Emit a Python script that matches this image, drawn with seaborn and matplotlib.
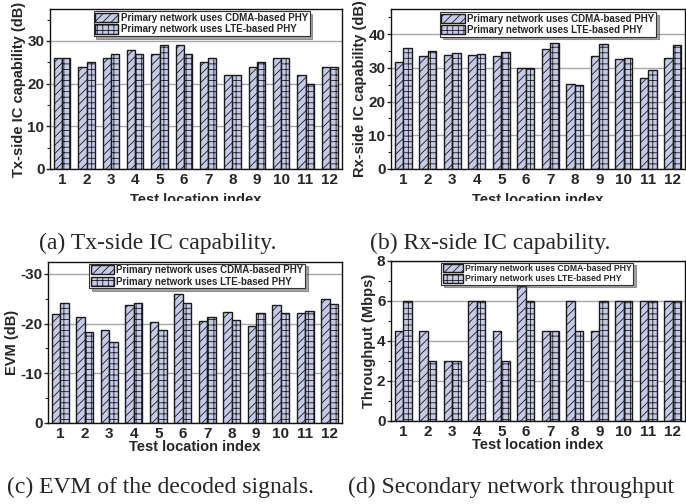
import matplotlib
matplotlib.use("Agg")
import matplotlib.pyplot as plt
from matplotlib.patches import Patch, Rectangle
from matplotlib.ticker import MultipleLocator
import seaborn as sns
import pandas as pd

locations = [str(i) for i in range(1, 13)]
series_names = ["Primary network uses CDMA-based PHY", "Primary network uses LTE-based PHY"]

tx_cdma = [26, 24, 26, 28, 27, 29, 25, 22, 24, 26, 22, 24]
tx_lte = [26, 25, 27, 27, 29, 27, 26, 22, 25, 26, 20, 24]

rx_cdma = [31.9, 33.4, 33.9, 33.8, 33.4, 29.9, 35.6, 25.3, 33.4, 32.7, 27.1, 33.0]
rx_lte = [36.0, 35.1, 34.4, 34.1, 34.7, 30.1, 37.4, 24.8, 37.1, 33.1, 29.4, 36.9]

evm_cdma = [-21.85, -21.4, -18.8, -23.7, -20.4, -25.9, -20.6, -22.3, -19.6, -23.7, -22.2, -24.9]
evm_lte = [-24.2, -18.3, -16.4, -24.1, -18.7, -24.1, -21.4, -20.8, -22.2, -22.1, -22.5, -24.0]

thr_cdma = [4.5, 4.5, 3, 6, 4.5, 6.75, 4.5, 6, 4.5, 6, 6, 6]
thr_lte = [6, 3, 3, 6, 3, 6, 4.5, 4.5, 6, 6, 6, 6]

captions = ["(a) Tx-side IC capability.", "(b) Rx-side IC capability.",
            "(c) EVM of the decoded signals.", "(d) Secondary network throughput"]

sns.set_style("white")
plt.rcParams["font.family"] = ["Liberation Sans", "DejaVu Sans"]
plt.rcParams["axes.unicode_minus"] = False
plt.rcParams["hatch.linewidth"] = 0.6

FILL = "#c6c9e8"
EDGE = "#1a1a1a"
HATCHES = ["////", "+++"]

W, H = 686, 504
fig = plt.figure(figsize=(W / 100, H / 100), dpi=100)


def px_axes(left, top, right, bottom):
    return fig.add_axes([left / W, 1 - bottom / H, (right - left) / W, (bottom - top) / H])


panels = [
    dict(box=(50, 9, 342, 169), a=tx_cdma, b=tx_lte, ylabel="Tx-side IC capability (dB)",
         ylim=(0, 37.5), major=10, minor=5, leg=(0.519, 0.985), legfs=7.0, xlpad=4.5),
    dict(box=(391, 9, 685, 169), a=rx_cdma, b=rx_lte, ylabel="Rx-side IC capability (dB)",
         ylim=(0, 47.5), major=10, minor=5, leg=(0.534, 0.98), legfs=7.0, xlpad=4.5),
    dict(box=(48, 262, 342, 423), a=evm_cdma, b=evm_lte, ylabel="EVM (dB)",
         ylim=(0, -32.4), major=10, minor=5, leg=(0.507, 0.99), legfs=7.0, xlpad=-1),
    dict(box=(391, 261, 685, 421), a=thr_cdma, b=thr_lte, ylabel="Throughput (Mbps)",
         ylim=(0, 8), major=2, minor=1, leg=(0.498, 0.99), legfs=6.2, xlpad=-1),
]

for p in panels:
    ax = px_axes(*p["box"])
    df = pd.DataFrame({
        "loc": locations * 2,
        "val": list(p["a"]) + list(p["b"]),
        "phy": [series_names[0]] * 12 + [series_names[1]] * 12,
    })
    sns.barplot(data=df, x="loc", y="val", hue="phy", order=locations,
                hue_order=series_names, palette=[FILL, FILL], saturation=1,
                width=0.68, edgecolor=EDGE, linewidth=1.0, legend=False, ax=ax,
                errorbar=None)
    bars = [pt for pt in ax.patches]
    for i, bar in enumerate(bars[:24]):
        bar.set_hatch(HATCHES[0] if i < 12 else HATCHES[1])
        bar.set_edgecolor(EDGE)
        bar.set_zorder(2)
    ax.set_xlim(-0.5, 11.5)
    ax.set_ylim(*p["ylim"])
    ax.yaxis.set_major_locator(MultipleLocator(p["major"]))
    ax.yaxis.set_minor_locator(MultipleLocator(p["minor"]))
    ax.set_axisbelow(True)
    ax.grid(axis="y", which="major", color="#a8a8a8", linewidth=1.0)
    ax.grid(axis="x", visible=False)
    for s in ax.spines.values():
        s.set_visible(True)
        s.set_color("#111111")
        s.set_linewidth(1.0)
    ax.tick_params(axis="y", which="major", direction="out", length=3, width=1,
                   labelsize=11, pad=1, left=True)
    ax.tick_params(axis="y", which="minor", direction="out", length=2, width=0.8, left=True)
    ax.tick_params(axis="x", which="both", length=0, labelsize=11, pad=3)
    for lab in ax.get_xticklabels() + ax.get_yticklabels():
        lab.set_fontweight("bold")
    ax.set_xlabel("Test location index", fontsize=10.5, fontweight="bold", labelpad=p["xlpad"])
    ax.set_ylabel(p["ylabel"], fontsize=10.5, fontweight="bold", labelpad=1)

    handles = [Patch(facecolor=FILL, edgecolor=EDGE, hatch=HATCHES[0], linewidth=1.0),
               Patch(facecolor=FILL, edgecolor=EDGE, hatch=HATCHES[1], linewidth=1.0)]
    leg = ax.legend(handles, series_names, loc="upper center", bbox_to_anchor=p["leg"],
                    frameon=True, fancybox=False, shadow=True, borderaxespad=0,
                    prop={"weight": "bold", "size": p["legfs"]}, handlelength=2.4,
                    handleheight=1.1, handletextpad=0.25, labelspacing=0.15,
                    borderpad=0.15)
    leg.get_frame().set_edgecolor("#333333")
    leg.get_frame().set_linewidth(0.8)
    leg.set_zorder(10)

# white band that hides the lower part of the top row's x-axis titles
fig.patches.append(Rectangle((0, 1 - 232 / H), 1, 31 / H, transform=fig.transFigure,
                             facecolor="white", edgecolor="none", zorder=5))

cap_pos = [(39, 243), (370, 243), (7, 487), (348, 487)]
for text, (x, y) in zip(captions, cap_pos):
    fig.text(x / W, 1 - y / H, text, ha="left", va="center", fontsize=17,
             family=["Liberation Serif", "DejaVu Serif"], zorder=6)

fig.savefig("out.png", dpi=100)
